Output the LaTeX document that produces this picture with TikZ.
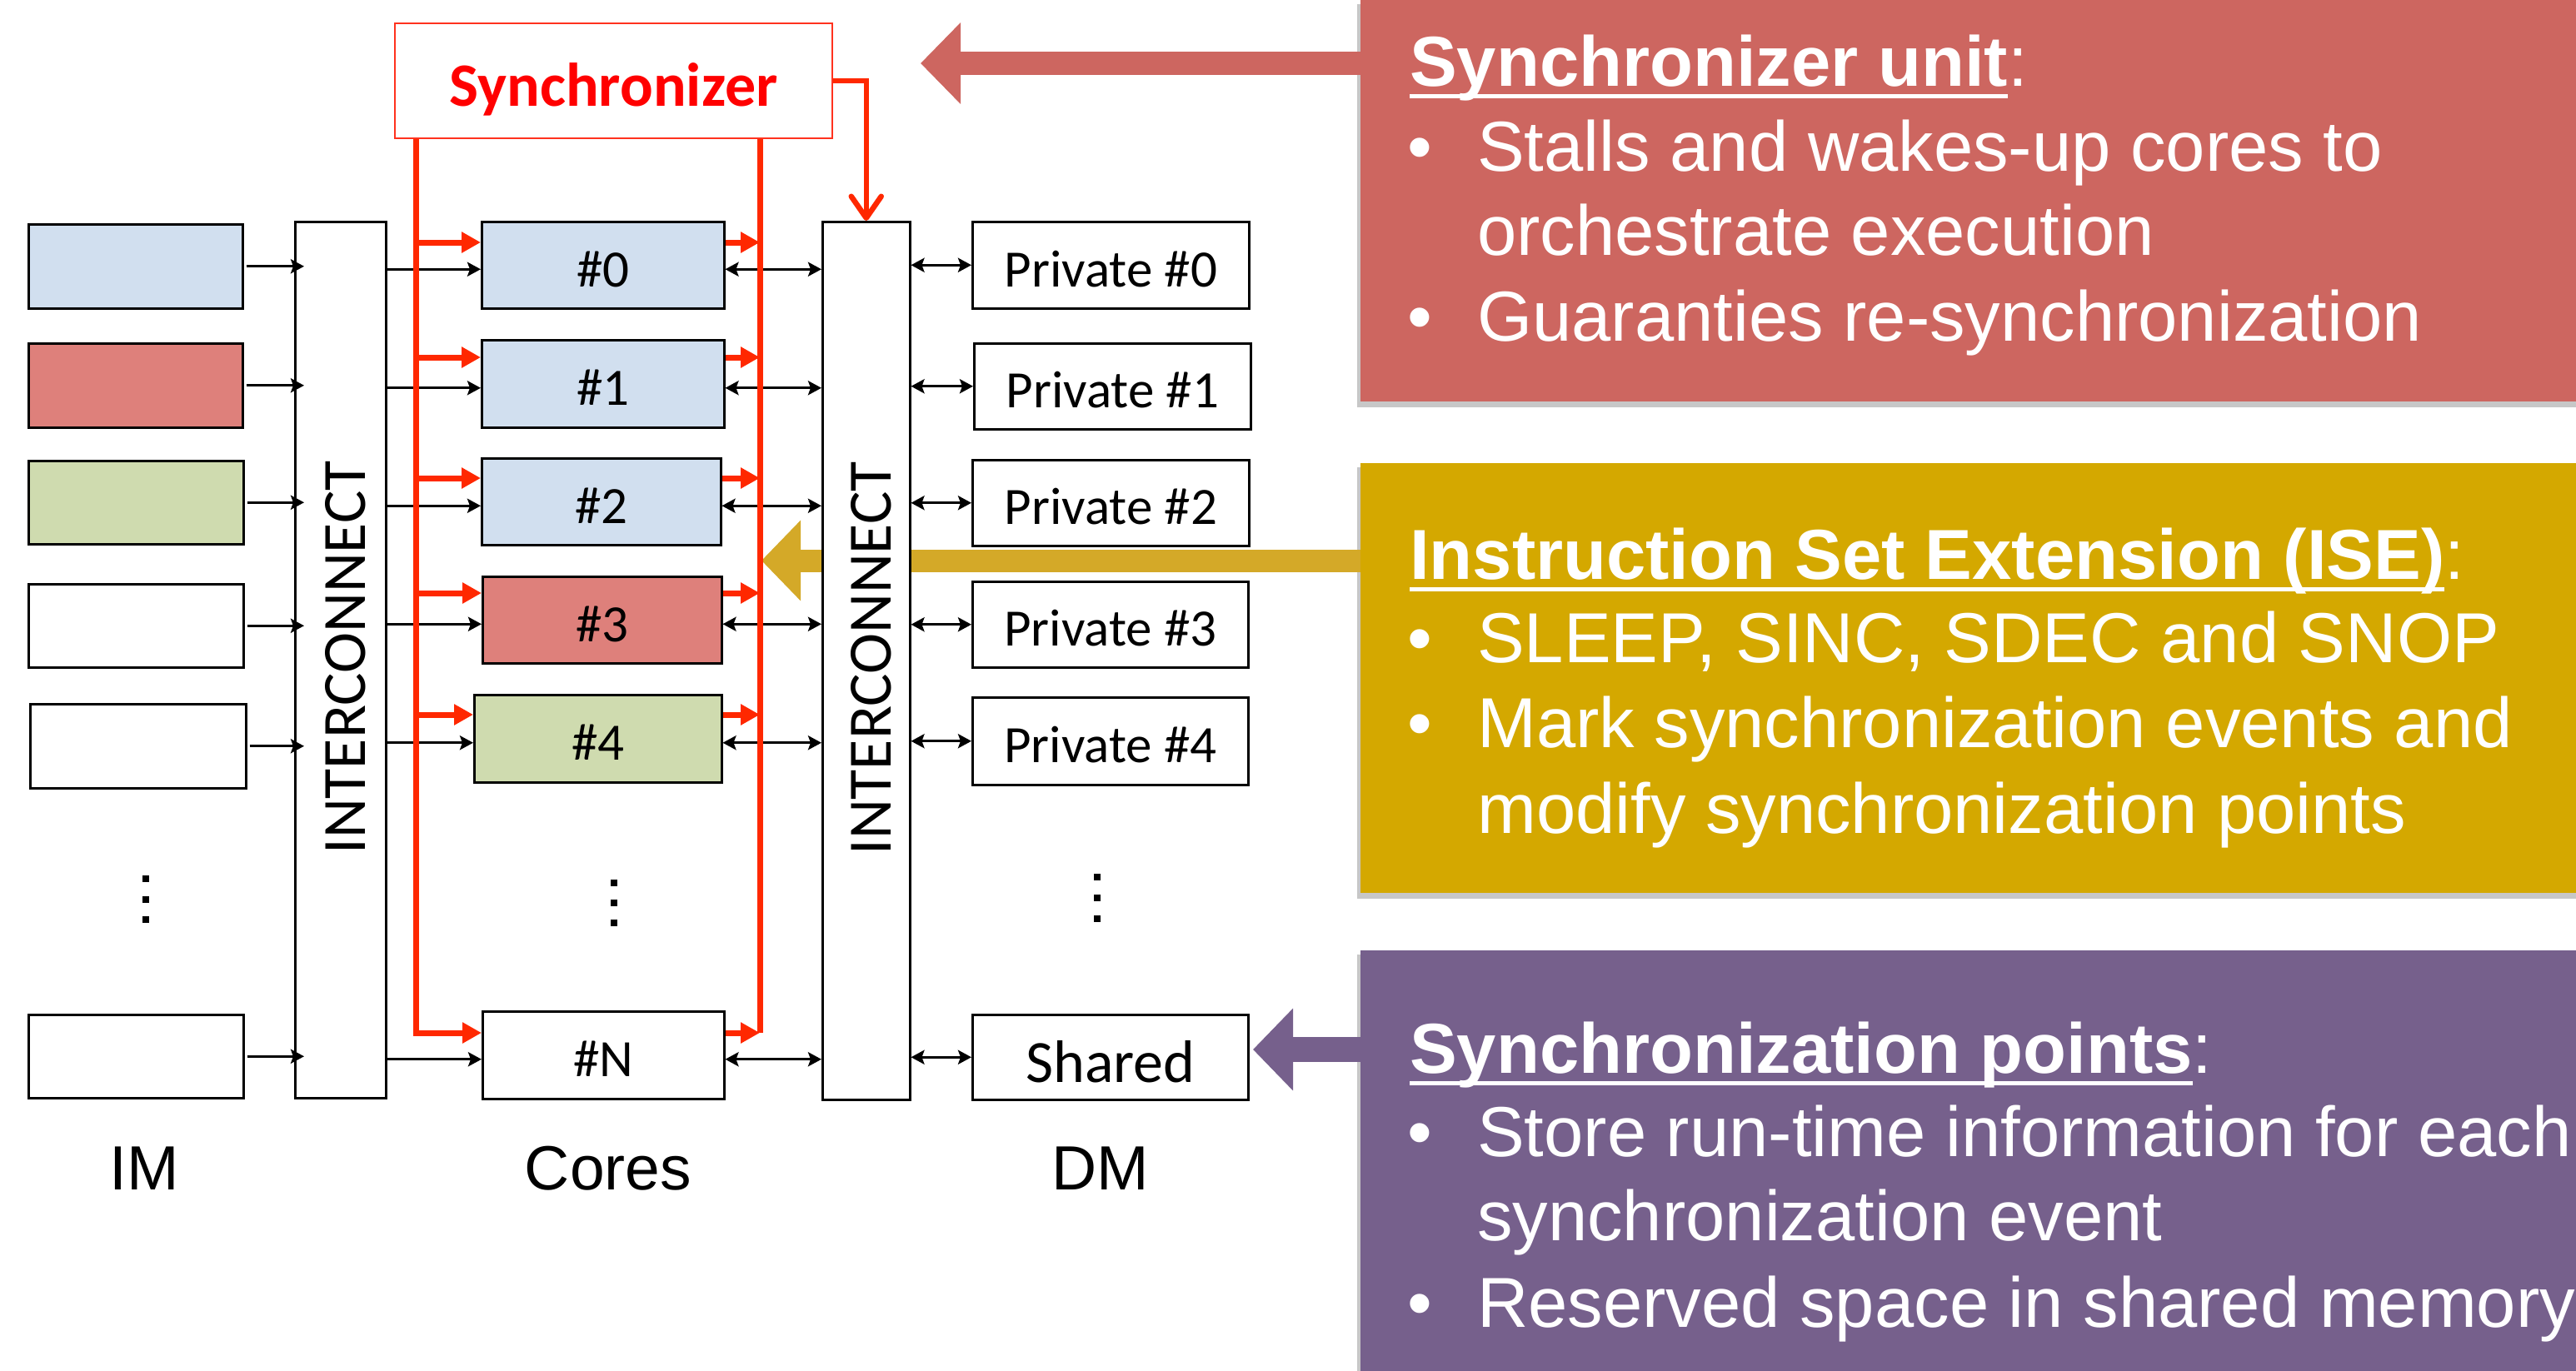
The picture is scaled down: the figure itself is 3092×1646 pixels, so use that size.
\documentclass[tikz,border=0pt]{standalone}
\usepackage{fontspec}
\setmainfont{Liberation Sans}
\newfontfamily\calfont{Carlito}
\usetikzlibrary{arrows.meta,calc}
\definecolor{lblue}{RGB}{209,223,239}
\definecolor{imred}{RGB}{222,128,123}
\definecolor{imgreen}{RGB}{207,219,175}
\definecolor{boxred}{RGB}{205,102,96}
\definecolor{boxyel}{RGB}{212,168,0}
\definecolor{yelarrow}{RGB}{212,169,40}
\definecolor{boxpur}{RGB}{118,96,140}
\definecolor{busred}{RGB}{255,40,0}
\definecolor{syncred}{RGB}{255,50,30}
\newsavebox\ulbox
\newcommand\myul[1]{\sbox\ulbox{#1}\rlap{\rule[-15pt]{\wd\ulbox}{5pt}}\usebox\ulbox}
\newcommand\cbox[7]{\node[blk,#6,minimum width={#4-#2},minimum height={#5-#3}] (#1) at (#2,#3) {#7};}
\tikzset{
  tipb/.tip={Stealth[length=16pt,width=17pt,inset=3pt]},
  blk/.style={draw=black, line width=2.5pt, inner sep=0pt, anchor=north west},
  calt/.style={font=\calfont\fontsize{63}{70}\selectfont, text height=52pt, text depth=0pt},
  barr/.style={draw=black, line width=3pt, -tipb},
  bdarr/.style={draw=black, line width=3pt, tipb-tipb},
  redbus/.style={draw=busred, line width=7pt},
  redarr/.style={draw=busred, line width=7pt, -{Triangle[length=23pt,width=24pt]}},
  wtxt/.style={text=white, font=\fontsize{85}{100}\selectfont, inner sep=0pt, anchor=base west},
  wbul/.style={text=white, font=\fontsize{85}{100}\selectfont, inner sep=0pt, anchor=base},
  cbg/.style={inner sep=0pt, anchor=north west, minimum width=1459},
  collabel/.style={font=\fontsize{75}{80}\selectfont, anchor=base, inner sep=0pt}
}
\begin{document}
\begin{tikzpicture}[x=1pt,y=-1pt,line join=miter]
\useasboundingbox (0,0) rectangle (3092,1646);
% ---------- coloured explanation boxes ----------
\fill[black!22] (1629,5) rectangle (3092,489);
\fill[black!22] (1629,561) rectangle (3092,1079);
\fill[black!22] (1629,1146) rectangle (3092,1646);
\node[cbg, fill=boxred, minimum height=482] (redbox) at (1633,0) {};
\node[cbg, fill=boxyel, minimum height=516] (yelbox) at (1633,556) {};
\node[cbg, fill=boxpur, minimum height=505] (purbox) at (1633,1141) {};
% big arrows
\coordinate (rtip) at (1105,76);
\coordinate (ytip) at (914,673);
\coordinate (ptip) at (1504,1260);
\draw[draw=boxred, line width=27pt, -{Triangle[length=48pt,width=95pt]}] (redbox.west |- rtip) -- (rtip);
\draw[draw=yelarrow, line width=27pt, -{Triangle[length=47pt,width=94pt]}] (yelbox.west |- ytip) -- (ytip);
\draw[draw=boxpur, line width=30pt, -{Triangle[length=48pt,width=96pt]}] (purbox.west |- ptip) -- (ptip);
% texts in red box
\node[wtxt] (rh) at (1692,103) {\myul{\bfseries Synchronizer unit}:};
\node[wbul] (rb1) at (1704,205) {•};
\node[wtxt] (r1) at (1773,205) {Stalls and wakes-up cores to};
\node[wtxt] (r2) at (1773,306) {orchestrate execution};
\node[wbul] (rb2) at (1704,409) {•};
\node[wtxt] (r3) at (1773,409) {Guaranties re-synchronization};
% texts in yellow box
\node[wtxt] (yh) at (1692,695) {\myul{\bfseries Instruction Set Extension (ISE)}:};
\node[wbul] (yb1) at (1704,795) {•};
\node[wtxt] (y1) at (1773,795) {SLEEP, SINC, SDEC and SNOP};
\node[wbul] (yb2) at (1704,897) {•};
\node[wtxt] (y2) at (1773,897) {Mark synchronization events and};
\node[wtxt] (y3) at (1773,1000) {modify synchronization points};
% texts in purple box
\node[wtxt] (ph) at (1692,1288) {\myul{\bfseries Synchronization points}:};
\node[wbul] (pb1) at (1704,1388) {•};
\node[wtxt] (p1) at (1773,1388) {Store run-time information for each};
\node[wtxt] (p2) at (1773,1489) {synchronization event};
\node[wbul] (pb2) at (1704,1593) {•};
\node[wtxt] (p3) at (1773,1593) {Reserved space in shared memory};
% ---------- diagram ----------
% IM boxes
\cbox{im0}{33}{268}{290}{369}{fill=lblue}{}
\cbox{im1}{33}{411}{290}{512}{fill=imred}{}
\cbox{im2}{33}{552}{291}{652}{fill=imgreen}{}
\cbox{im3}{33}{700}{291}{800}{fill=white}{}
\cbox{im4}{35}{844}{294}{945}{fill=white}{}
\cbox{imN}{33}{1217}{291}{1317}{fill=white}{}
% interconnects
\cbox{ic1}{353}{265}{462}{1317}{fill=white}{}
\cbox{ic2}{986}{265}{1091}{1319}{fill=white}{}
\node[rotate=90, font=\calfont\fontsize{74}{80}\selectfont, inner sep=0pt] (ic1t) at ($(ic1.center)+(6,-3)$) {INTERCONNECT};
\node[rotate=90, font=\calfont\fontsize{74}{80}\selectfont, inner sep=0pt] (ic2t) at ($(ic2.center)+(6,-3)$) {INTERCONNECT};
% cores
\cbox{core0}{577}{265}{868}{369}{fill=lblue,calt}{\#0}
\cbox{core1}{577}{407}{868}{512}{fill=lblue,calt}{\#1}
\cbox{core2}{577}{549}{864}{653}{fill=lblue,calt}{\#2}
\cbox{core3}{578}{691}{865}{795}{fill=imred,calt}{\#3}
\cbox{core4}{568}{833}{865}{938}{fill=imgreen,calt}{\#4}
\cbox{coreN}{578}{1213}{868}{1318}{fill=white,calt}{\#N}
% data memories
\cbox{p0}{1166}{265}{1498}{369}{fill=white,calt}{Private \#0}
\cbox{p1}{1168}{411}{1500}{514}{fill=white,calt}{Private \#1}
\cbox{p2}{1166}{551}{1498}{654}{fill=white,calt}{Private \#2}
\cbox{p3}{1166}{697}{1497}{800}{fill=white,calt}{Private \#3}
\cbox{p4}{1166}{836}{1497}{941}{fill=white,calt}{Private \#4}
\cbox{pS}{1166}{1217}{1497}{1319}{fill=white,font=\calfont\fontsize{72}{80}\selectfont,text height=60pt,text depth=0pt}{Shared}
% synchronizer
\cbox{sync}{473}{27}{998}{165}{fill=white,draw=syncred,line width=2pt,text=red,font=\calfont\bfseries\fontsize{74}{80}\selectfont,text height=60pt,text depth=0pt}{Synchronizer}
% IM -> IC1
\foreach \n in {im0,im1,im2,im3,im4,imN}{
  \draw[barr] ($(\n.east)+(3,0)$) -- ($(\n.east -| ic1.west)+(12,0)$);
}
% IC1 -> cores, cores <-> IC2
\foreach \n in {core0,core1,core2,core3,core4,coreN}{
  \coordinate (k-\n) at ($(\n.center)+(0,5)$);
  \draw[barr] (ic1.east |- k-\n) -- (\n.west |- k-\n);
  \draw[bdarr] (\n.east |- k-\n) -- (ic2.west |- k-\n);
}
% IC2 <-> memories
\foreach \n in {p0,p1,p2,p3,p4,pS}{
  \draw[bdarr] (ic2.east |- \n.center) -- (\n.west);
}
% red synchronisation buses
\coordinate (L) at (499,0);
\coordinate (R) at (912,0);
\coordinate (r0) at (0,291);
\coordinate (r1) at (0,429);
\coordinate (r2) at (0,574);
\coordinate (r3) at (0,712);
\coordinate (r4) at (0,858);
\coordinate (rN) at (0,1240);
\draw[redarr] (sync.south -| L) -- (L |- rN) -- (coreN.west |- rN);
\draw[redbus] (sync.south -| R) -- (R |- rN);
\foreach \i in {0,1,2,3,4}{
  \draw[redarr] (L |- r\i) -- (core\i.west |- r\i);
  \draw[redarr] (core\i.east |- r\i) -- (R |- r\i);
}
\draw[redarr] (coreN.east |- rN) -- (R |- rN);
% synchronizer -> IC2
\draw[draw=busred, line width=6.5pt, -{Straight Barb[length=26pt,width=36pt,round]}] (sync.east) -| (ic2.north);
% vertical ellipses
\foreach \y in {1055,1080,1104}{ \fill (171,\y-4) rectangle (179,\y+4); }
\foreach \y in {1060,1084,1108}{ \fill (733,\y-4) rectangle (741,\y+4); }
\foreach \y in {1053,1078,1103}{ \fill (1313,\y-4) rectangle (1321,\y+4); }
% column labels
\node[collabel] (lim) at (173,1428) {IM};
\node[collabel] (lcores) at (730,1428) {Cores};
\node[collabel] (ldm) at (1321,1428) {DM};
\end{tikzpicture}
\end{document}
